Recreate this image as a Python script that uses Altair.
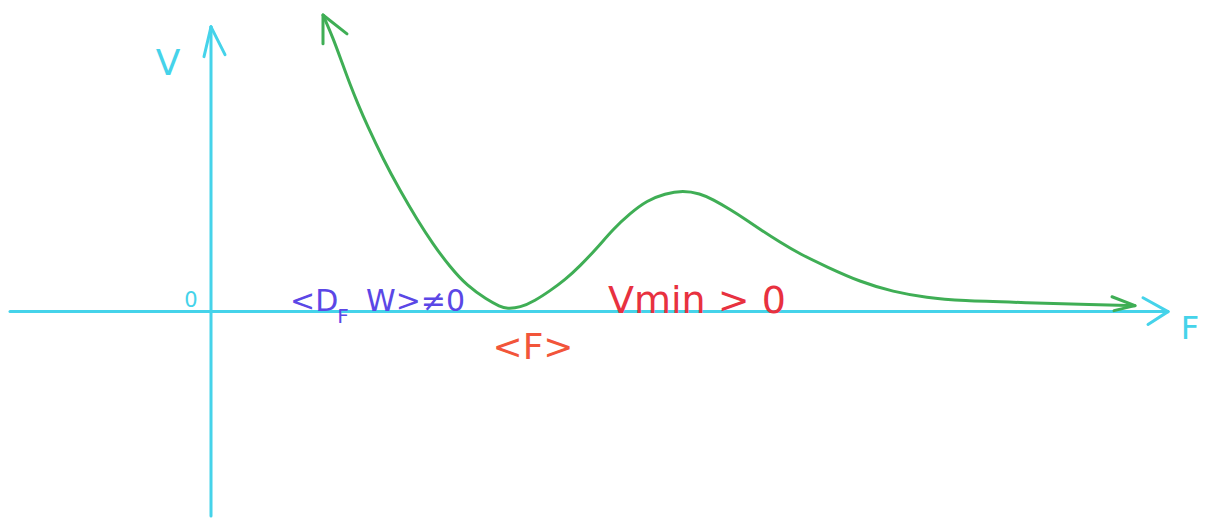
import altair as alt
import pandas as pd

# Green potential curve V(F), in axis units (F right, V up)
curve_F = [1.13, 1.23, 1.32, 1.40, 1.48, 1.57, 1.73, 1.90, 2.07, 2.23, 2.40, 2.57, 2.77, 2.90, 2.97,
           3.10, 3.25, 3.40, 3.55, 3.70, 3.87, 4.03, 4.20, 4.37, 4.55, 4.73, 4.90, 5.03, 5.20, 5.37,
           5.50, 5.70, 5.90, 6.17, 6.50, 6.83, 7.17, 7.50, 8.17, 8.83, 9.25]
curve_V = [2.99, 2.76, 2.51, 2.29, 2.09, 1.88, 1.54, 1.22, 0.93, 0.68, 0.45, 0.26, 0.12, 0.05, 0.03,
           0.04, 0.11, 0.21, 0.32, 0.46, 0.64, 0.83, 0.99, 1.12, 1.19, 1.22, 1.19, 1.13, 1.03, 0.92,
           0.83, 0.70, 0.58, 0.45, 0.30, 0.20, 0.14, 0.11, 0.09, 0.07, 0.06]

# Axis lines and arrowheads (segments)
seg_F1 = [0.01, 0.01, 0.01, -2.00, 9.58, 9.58, 1.13, 1.13, 9.25, 9.25]
seg_V1 = [2.87, 2.87, 2.87, 0.00, 0.00, 0.00, 2.99, 2.99, 0.06, 0.06]
seg_F2 = [0.01, -0.06, 0.15, 9.58, 9.33, 9.38, 1.13, 1.37, 9.02, 9.04]
seg_V2 = [-2.06, 2.57, 2.59, 0.00, 0.14, -0.13, 2.70, 2.80, 0.15, 0.01]
seg_kind = ["axis", "axis", "axis", "axis", "axis", "axis", "curve", "curve", "curve", "curve"]

# Labels
label_text = ["V", "0", "<D", "F", "W>≠0", "Vmin > 0", "<F>", "F"]
label_F = [-0.42, -0.19, 0.80, 1.33, 1.56, 3.98, 3.23, 9.80]
label_V = [2.50, 0.11, 0.01, -0.05, 0.01, -0.01, -0.37, -0.18]
label_color = ["#45d3ea", "#45d3ea", "#5b47e6", "#5b47e6", "#5b47e6", "#e8313f", "#f2553a", "#45d3ea"]
label_size = [36, 21, 30, 20, 30, 38, 36, 32]
label_align = ["center", "center", "left", "center", "left", "left", "center", "center"]
label_base = ["middle", "middle", "alphabetic", "middle", "alphabetic", "alphabetic", "middle", "middle"]

xs = alt.Scale(domain=[-2.02, 9.91], nice=False, zero=False)
ys = alt.Scale(domain=[-2.06, 3.04], nice=False, zero=False)

curve_df = pd.DataFrame({"F": curve_F, "V": curve_V, "i": range(len(curve_F))})
seg_df = pd.DataFrame({"F1": seg_F1, "V1": seg_V1, "F2": seg_F2, "V2": seg_V2, "kind": seg_kind})

segs = alt.Chart(seg_df).mark_rule(strokeWidth=3, strokeCap="round").encode(
    x=alt.X("F1:Q", scale=xs, axis=None),
    y=alt.Y("V1:Q", scale=ys, axis=None),
    x2="F2:Q",
    y2="V2:Q",
    color=alt.Color("kind:N", scale=alt.Scale(domain=["axis", "curve"], range=["#45d3ea", "#3fae55"]), legend=None),
)

line = alt.Chart(curve_df).mark_line(color="#3fae55", strokeWidth=3, interpolate="basis").encode(
    x=alt.X("F:Q", scale=xs, axis=None),
    y=alt.Y("V:Q", scale=ys, axis=None),
    order="i:Q",
)

layers = [segs, line]
for t, f, v, c, s, a, b in zip(label_text, label_F, label_V, label_color, label_size, label_align, label_base):
    df = pd.DataFrame({"F": [f], "V": [v], "t": [t]})
    layers.append(
        alt.Chart(df).mark_text(color=c, fontSize=s, align=a, baseline=b, font="DejaVu Sans").encode(
            x=alt.X("F:Q", scale=xs, axis=None),
            y=alt.Y("V:Q", scale=ys, axis=None),
            text="t:N",
        )
    )

chart = alt.layer(*layers).properties(
    width=1193, height=510, padding=0,
    autosize=alt.AutoSizeParams(type="fit", contains="padding"),
).configure_view(stroke=None)

chart.save("out.html", embed_options={"renderer": "svg", "actions": False})
